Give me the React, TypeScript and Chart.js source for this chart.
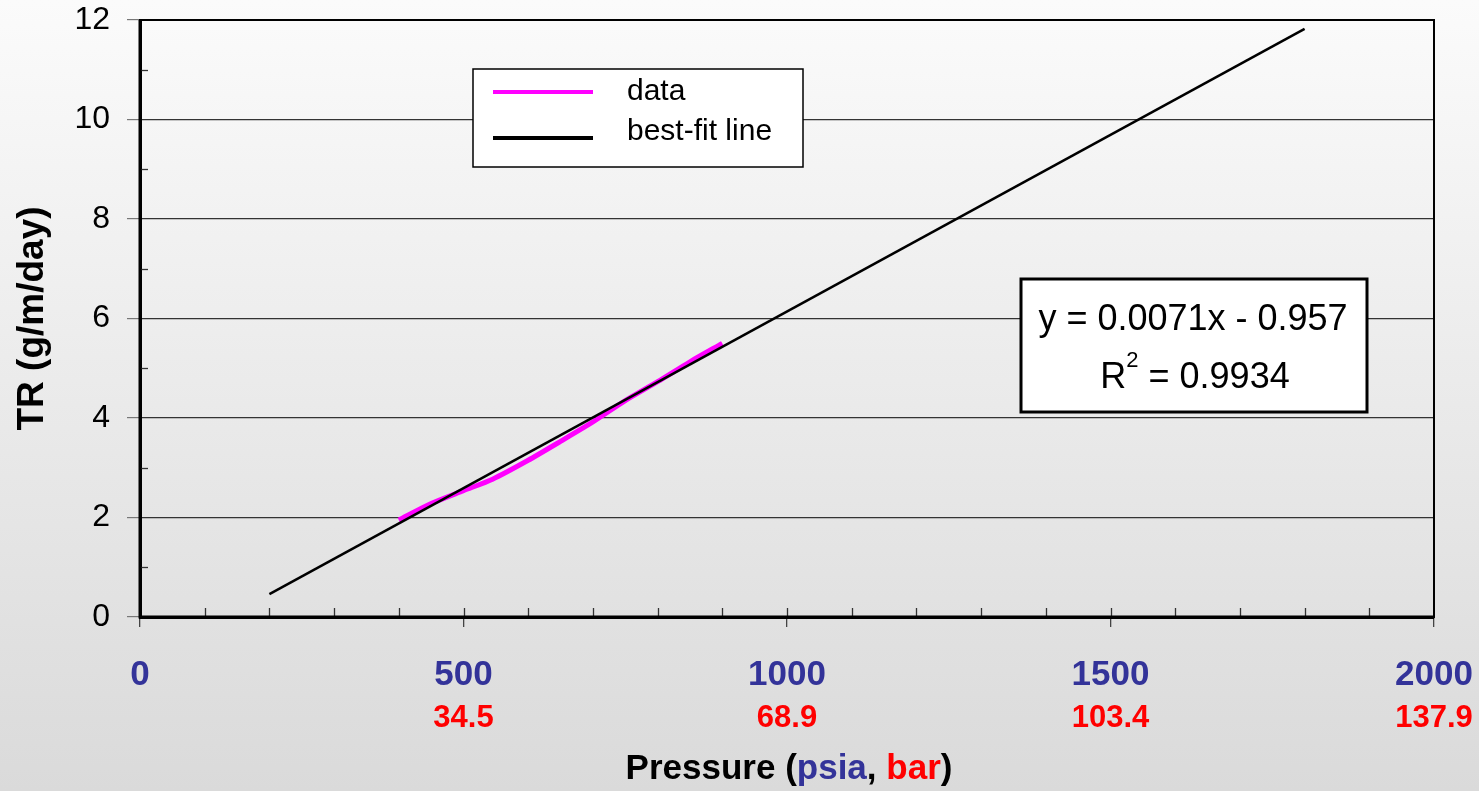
import { useEffect, useRef } from 'react';
import { Chart, registerables } from 'chart.js';

Chart.register(...registerables);

// ---- data ----
const pressurePsia = [400, 450, 500, 545, 600, 650, 700, 750, 800, 850, 900];
const trValues = [1.95, 2.28, 2.54, 2.77, 3.15, 3.53, 3.92, 4.35, 4.73, 5.13, 5.5];
const fitPressure = [200, 1800];
const fitTR = [0.46, 11.82];
const xMajorTicks = [0, 500, 1000, 1500, 2000];
const barLabels = ['', '34.5', '68.9', '103.4', '137.9'];
const seriesNames = ['data', 'best-fit line'];
const equationLine = 'y = 0.0071x - 0.957';
const r2Value = '0.9934';

const FONT = "'Liberation Sans', Arial, Helvetica, sans-serif";
const BLUE = '#333399';
const RED = '#ff0000';
const MAGENTA = '#ff00ff';

// target plot-area edges
const AREA = { left: 140, top: 20, right: 1434, bottom: 617 };

const overlayPlugin = {
  id: 'overlay',
  afterDraw(chart: any) {
    const { ctx, chartArea: ca, scales } = chart;
    const xs = scales.x;
    const ys = scales.y;
    ctx.save();

    // minor ticks (inside)
    ctx.strokeStyle = '#333';
    ctx.lineWidth = 1.3;
    for (let v = 100; v < 2000; v += 100) {
      const px = Math.round(xs.getPixelForValue(v)) + 0.5;
      ctx.beginPath();
      ctx.moveTo(px, ca.bottom);
      ctx.lineTo(px, ca.bottom - 9);
      ctx.stroke();
    }
    for (let v = 1; v < 12; v += 2) {
      const py = Math.round(ys.getPixelForValue(v)) + 0.5;
      ctx.beginPath();
      ctx.moveTo(ca.left, py);
      ctx.lineTo(ca.left + 8, py);
      ctx.stroke();
    }

    // frame
    ctx.strokeStyle = '#000';
    ctx.lineWidth = 2;
    ctx.strokeRect(ca.left, ca.top, ca.right - ca.left, ca.bottom - ca.top);
    ctx.lineWidth = 3;
    ctx.beginPath();
    ctx.moveTo(ca.left, ca.top);
    ctx.lineTo(ca.left, ca.bottom);
    ctx.lineTo(ca.right, ca.bottom);
    ctx.stroke();

    // second row of x labels (bar)
    ctx.font = `bold 31px ${FONT}`;
    ctx.fillStyle = RED;
    ctx.textAlign = 'center';
    ctx.textBaseline = 'alphabetic';
    xMajorTicks.forEach((v, i) => {
      if (barLabels[i]) ctx.fillText(barLabels[i], xs.getPixelForValue(v), 727);
    });

    // x axis title with mixed colours
    const parts: [string, string][] = [
      ['Pressure (', '#000'],
      ['psia', BLUE],
      [', ', '#000'],
      ['bar', RED],
      [')', '#000'],
    ];
    ctx.font = `bold 35px ${FONT}`;
    ctx.textAlign = 'left';
    const total = parts.reduce((s, p) => s + ctx.measureText(p[0]).width, 0);
    let tx = 789 - total / 2;
    parts.forEach(([t, c]) => {
      ctx.fillStyle = c;
      ctx.fillText(t, tx, 779);
      tx += ctx.measureText(t).width;
    });

    // legend box
    const ds = chart.data.datasets;
    ctx.fillStyle = '#fff';
    ctx.fillRect(473, 69, 330, 98);
    ctx.strokeStyle = '#000';
    ctx.lineWidth = 1.5;
    ctx.strokeRect(473, 69, 330, 98);
    const rows = [92, 138];
    ctx.font = `30px ${FONT}`;
    ctx.textBaseline = 'alphabetic';
    rows.forEach((y, i) => {
      ctx.strokeStyle = ds[i].borderColor;
      ctx.lineWidth = 4;
      ctx.beginPath();
      ctx.moveTo(493, y);
      ctx.lineTo(593, y);
      ctx.stroke();
      ctx.fillStyle = '#000';
      ctx.fillText(seriesNames[i], 627, i === 0 ? 100 : 140);
    });

    // equation box
    ctx.fillStyle = '#fff';
    ctx.fillRect(1021, 279, 346, 133);
    ctx.strokeStyle = '#000';
    ctx.lineWidth = 3;
    ctx.strokeRect(1021, 279, 346, 133);
    ctx.fillStyle = '#000';
    ctx.font = `36px ${FONT}`;
    ctx.textAlign = 'center';
    ctx.fillText(equationLine, 1193, 330);
    // R^2 line
    ctx.textAlign = 'left';
    const r = 'R';
    const rest = ' = ' + r2Value;
    ctx.font = `36px ${FONT}`;
    const wR = ctx.measureText(r).width;
    const wRest = ctx.measureText(rest).width;
    ctx.font = `22px ${FONT}`;
    const wSup = ctx.measureText('2').width;
    const start = 1195 - (wR + wSup + wRest) / 2;
    ctx.font = `36px ${FONT}`;
    ctx.fillText(r, start, 388);
    ctx.font = `22px ${FONT}`;
    ctx.fillText('2', start + wR, 367);
    ctx.font = `36px ${FONT}`;
    ctx.fillText(rest, start + wR + wSup, 388);

    ctx.restore();
  },
};

export default function App() {
  const canvasRef = useRef<HTMLCanvasElement | null>(null);

  useEffect(() => {
    const canvas = canvasRef.current;
    if (!canvas) return;
    const chart: any = new Chart(canvas, {
      type: 'line',
      data: {
        datasets: [
          {
            label: seriesNames[0],
            data: pressurePsia.map((x, i) => ({ x, y: trValues[i] })),
            borderColor: MAGENTA,
            borderWidth: 5,
            pointRadius: 0,
            tension: 0.25,
            order: 1,
          },
          {
            label: seriesNames[1],
            data: fitPressure.map((x, i) => ({ x, y: fitTR[i] })),
            borderColor: '#000',
            borderWidth: 2.5,
            pointRadius: 0,
            tension: 0,
            order: 0,
          },
        ],
      },
      options: {
        responsive: false,
        animation: false,
        layout: {
          padding: {
            top: AREA.top,
            right: 1479 - AREA.right,
            left: 0,
            bottom: 0,
          },
        },
        plugins: {
          legend: { display: false },
          tooltip: { enabled: false },
        },
        scales: {
          x: {
            type: 'linear',
            position: 'bottom',
            min: 0,
            max: 2000,
            afterBuildTicks: (s: any) => {
              s.ticks = xMajorTicks.map((v) => ({ value: v }));
            },
            afterFit: (s: any) => {
              s.height = 791 - AREA.bottom;
              s.paddingLeft = 0;
              s.paddingRight = 0;
            },
            ticks: {
              stepSize: 500,
              autoSkip: false,
              maxRotation: 0,
              padding: 27,
              color: BLUE,
              font: { family: FONT, size: 35, weight: 'bold' },
              callback: (v: any) => String(v),
            },
            grid: {
              drawOnChartArea: false,
              drawTicks: true,
              tickLength: 10,
              tickColor: '#444',
              lineWidth: 1.3,
            },
            border: { display: true, color: '#000', width: 3 },
          },
          y: {
            type: 'linear',
            min: 0,
            max: 12,
            afterFit: (s: any) => {
              s.width = AREA.left;
              s.paddingTop = 0;
              s.paddingBottom = 0;
            },
            ticks: {
              stepSize: 2,
              padding: 17,
              color: '#000',
              font: { family: FONT, size: 32 },
            },
            grid: {
              color: (c: any) =>
                c.tick && (c.tick.value === 0 || c.tick.value === 12) ? 'rgba(0,0,0,0)' : '#333',
              lineWidth: 1.2,
              tickLength: 13,
              tickColor: '#777',
            },
            border: { display: true, color: '#000', width: 3 },
            title: {
              display: true,
              text: 'TR (g/m/day)',
              color: '#000',
              font: { family: FONT, size: 37, weight: 'bold' },
              padding: { top: 11, bottom: 0 },
            },
          },
        },
      },
      plugins: [overlayPlugin],
    } as any);

    // nudge layout padding so the plot area lands on the target edges
    for (let k = 0; k < 4; k++) {
      const ca = chart.chartArea;
      const p = chart.options.layout.padding;
      const dTop = AREA.top - ca.top;
      const dRight = ca.right - AREA.right;
      if (Math.abs(dTop) < 0.5 && Math.abs(dRight) < 0.5) break;
      chart.options.layout.padding = {
        top: Math.max(0, p.top + dTop),
        right: Math.max(0, p.right + dRight),
        left: 0,
        bottom: 0,
      };
      chart.update();
    }

    return () => chart.destroy();
  }, []);

  return (
    <div
      style={{
        position: 'fixed',
        left: 0,
        top: 0,
        width: 1479,
        height: 791,
        background: 'linear-gradient(to bottom, #fbfbfb 0%, #ececec 45%, #dadada 100%)',
      }}
    >
      <canvas ref={canvasRef} width={1479} height={791} style={{ display: 'block' }} />
    </div>
  );
}
